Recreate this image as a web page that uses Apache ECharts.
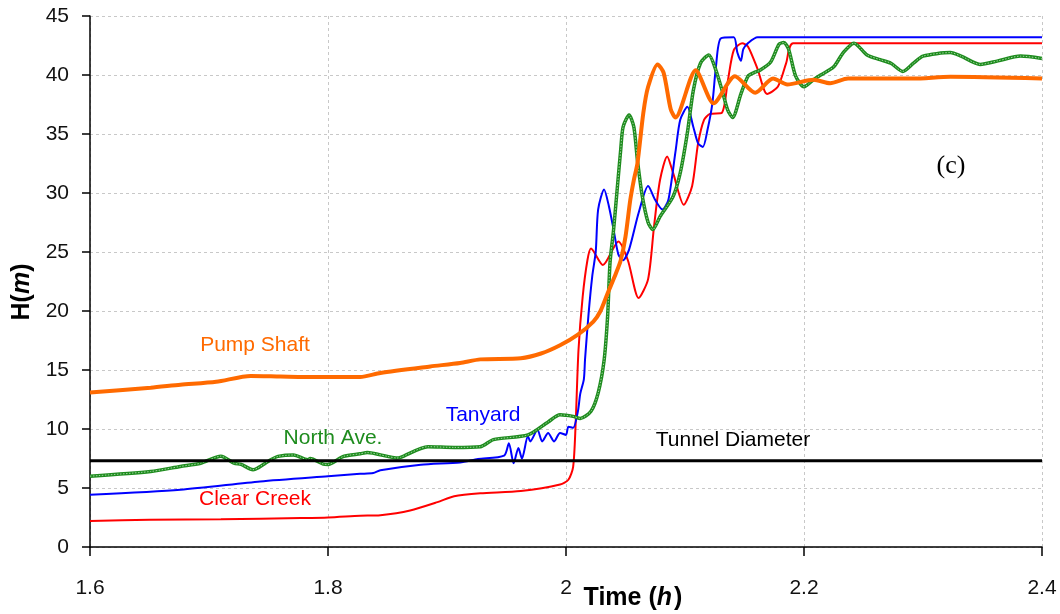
<!DOCTYPE html>
<html>
<head>
<meta charset="utf-8">
<script src="https://cdn.jsdelivr.net/npm/echarts@6/dist/echarts.min.js"></script>
<style>
html,body{margin:0;padding:0;background:#fff;}
#chart{width:1060px;height:614px;}
</style>
</head>
<body>
<div id="chart"></div>
<script>
// ---- Data (time in hours, head H in metres) ----
var xTicks = [1.6, 1.8, 2.0, 2.2, 2.4];
var yTicks = [0, 5, 10, 15, 20, 25, 30, 35, 40, 45];

var pumpShaft = [
  [1.600,13.1],[1.651,13.5],[1.676,13.75],[1.706,14.0],[1.735,14.5],[1.760,14.45],[1.790,14.4],
  [1.827,14.4],[1.844,14.75],[1.886,15.3],[1.911,15.6],[1.928,15.9],[1.962,16.0],[1.979,16.4],
  [1.995,17.1],[2.010,18.0],[2.023,19.1],[2.029,20.0],[2.035,21.5],[2.042,23.2],[2.046,24.3],
  [2.050,26.3],[2.054,29.4],[2.057,31.1],[2.060,32.5],[2.065,36.8],[2.069,39.0],[2.077,40.9],
  [2.082,40.2],[2.088,37.1],[2.092,36.4],[2.109,40.4],[2.124,37.6],[2.142,39.9],[2.159,38.5],
  [2.174,39.7],[2.186,39.2],[2.208,39.6],[2.222,39.3],[2.237,39.7],[2.292,39.7],[2.323,39.85],[2.400,39.7]
];

var clearCreek = [
  [1.600,2.2],[1.650,2.3],[1.710,2.35],[1.777,2.45],[1.800,2.5],[1.827,2.65],[1.844,2.7],
  [1.869,3.1],[1.892,3.8],[1.906,4.3],[1.928,4.55],[1.962,4.75],[1.995,5.3],[2.002,5.7],
  [2.006,6.8],[2.008,10.2],[2.0105,16.7],[2.014,21.2],[2.018,24.3],[2.021,25.3],[2.031,23.9],
  [2.044,25.9],[2.052,24.3],[2.061,21.1],[2.069,22.7],[2.074,27.2],[2.079,31.1],[2.085,33.1],
  [2.090,31.7],[2.099,29.0],[2.106,30.6],[2.111,34.2],[2.116,36.2],[2.121,36.7],[2.131,36.8],
  [2.136,39.5],[2.141,42.1],[2.148,42.7],[2.153,42.4],[2.161,40.5],[2.169,38.4],[2.178,39.0],
  [2.185,41.0],[2.191,42.7],[2.400,42.7]
];

var tanyard = [
  [1.600,4.43],[1.676,4.86],[1.743,5.56],[1.800,6.0],[1.827,6.2],[1.838,6.27],[1.844,6.5],
  [1.878,6.97],[1.911,7.17],[1.926,7.45],[1.948,7.74],[1.952,8.8],[1.956,7.1],[1.960,8.4],
  [1.963,7.5],[1.968,9.4],[1.970,8.95],[1.976,9.94],[1.980,8.95],[1.985,9.66],[1.990,8.95],
  [1.995,9.66],[2.000,9.5],[2.002,10.2],[2.006,10.1],[2.010,11.5],[2.012,13.0],[2.015,14.2],
  [2.016,15.9],[2.019,19.8],[2.022,22.9],[2.025,25.05],[2.027,28.6],[2.032,30.3],[2.036,28.9],
  [2.040,26.9],[2.044,24.8],[2.048,24.3],[2.053,25.2],[2.061,28.3],[2.069,30.6],[2.075,29.4],
  [2.081,28.6],[2.086,29.4],[2.092,33.5],[2.096,36.2],[2.102,37.3],[2.107,35.6],[2.111,34.2],
  [2.115,33.9],[2.119,35.4],[2.123,37.6],[2.126,40.7],[2.130,43.1],[2.141,43.2],[2.144,41.9],
  [2.147,41.2],[2.149,42.2],[2.153,42.7],[2.161,43.2],[2.400,43.2]
];

var northAve = [
  [1.600,6.0],[1.651,6.4],[1.676,6.83],[1.693,7.1],[1.710,7.7],[1.721,7.1],[1.727,7.0],
  [1.737,6.55],[1.741,6.7],[1.752,7.4],[1.758,7.68],[1.771,7.8],[1.783,7.4],[1.785,7.5],
  [1.796,7.03],[1.800,7.0],[1.813,7.68],[1.827,7.9],[1.833,8.0],[1.850,7.68],[1.858,7.54],
  [1.861,7.6],[1.884,8.5],[1.906,8.44],[1.928,8.5],[1.939,9.1],[1.968,9.5],[1.985,10.6],
  [1.995,11.2],[2.006,11.07],[2.012,10.9],[2.021,11.5],[2.027,13.05],[2.032,15.8],[2.035,19.6],
  [2.037,24.1],[2.040,26.9],[2.043,30.3],[2.046,33.7],[2.048,35.6],[2.053,36.6],[2.057,35.6],
  [2.060,32.8],[2.064,29.8],[2.069,27.5],[2.073,26.9],[2.079,28.0],[2.090,29.7],[2.096,31.7],
  [2.102,35.1],[2.107,38.7],[2.113,41.0],[2.120,41.7],[2.126,40.4],[2.132,38.4],[2.136,37.0],
  [2.140,36.4],[2.147,38.4],[2.153,39.9],[2.158,40.2],[2.163,40.4],[2.172,41.1],[2.179,42.6],
  [2.183,42.75],[2.187,42.2],[2.193,39.9],[2.200,39.0],[2.208,39.6],[2.214,40.0],[2.225,40.7],
  [2.233,41.9],[2.242,42.7],[2.253,41.7],[2.264,41.3],[2.273,41.0],[2.283,40.3],[2.292,41.0],
  [2.300,41.6],[2.323,41.9],[2.332,41.6],[2.348,40.9],[2.363,41.2],[2.382,41.6],[2.400,41.4]
];

var tunnelDiameter = [[1.6,7.3],[2.4,7.3]];

var labels = [
  {text:'Pump Shaft', x:255, y:345, color:'#FF6A00'},
  {text:'North Ave.', x:333, y:438, color:'#1E8C1E'},
  {text:'Tanyard', x:483, y:415, color:'#0000FF'},
  {text:'Clear Creek', x:255, y:499, color:'#FF0000'},
  {text:'Tunnel Diameter', x:733, y:440, color:'#000000'}
];

var chart = echarts.init(document.getElementById('chart'), null, {renderer:'canvas'});
var font = "'Liberation Sans', Arial, sans-serif";

function lineSeries(name, data, color, width, z, extra) {
  var s = {
    name: name, type: 'line', data: data, showSymbol: false, symbol: 'none',
    smooth: 0.25, z: z,
    lineStyle: {color: color, width: width},
    itemStyle: {color: color},
    animation: false
  };
  if (extra) { for (var k in extra) { s.lineStyle[k] = extra[k]; } }
  return s;
}

var graphics = labels.map(function (l) {
  return {
    type: 'text', x: l.x, y: l.y, z: 100,
    style: {text: l.text, fill: l.color, font: '21px ' + font, align: 'center', verticalAlign: 'middle'}
  };
});
graphics.push({
  type: 'text', x: 951, y: 166, z: 100,
  style: {text: '(c)', fill: '#000', font: "26px 'Liberation Serif', 'Times New Roman', serif", align: 'center', verticalAlign: 'middle'}
});
graphics.push({
  type: 'text', x: 633, y: 598, z: 100,
  style: {
    text: '{b|Time (}{i|h}{b|\u200a)}',
    align: 'center', verticalAlign: 'middle',
    rich: {
      b: {font: 'bold 25px ' + font, fill: '#000'},
      i: {font: 'italic bold 25px ' + font, fill: '#000'}
    }
  }
});
graphics.push({
  type: 'text', x: 22, y: 292, rotation: Math.PI / 2, z: 100,
  style: {
    text: '{b|H(}{i|m}{b|)}',
    align: 'center', verticalAlign: 'middle',
    rich: {
      b: {font: 'bold 25px ' + font, fill: '#000'},
      i: {font: 'italic bold 25px ' + font, fill: '#000'}
    }
  }
});

var option = {
  backgroundColor: '#ffffff',
  animation: false,
  grid: {left: 90, right: 18, top: 16, bottom: 67, containLabel: false},
  xAxis: {
    type: 'value', min: xTicks[0], max: xTicks[xTicks.length - 1], interval: 0.2,
    axisLine: {show: true, onZero: false, lineStyle: {color: '#000', width: 1.5}},
    axisTick: {show: true, inside: false, length: 9, lineStyle: {color: '#000', width: 1.5}},
    axisLabel: {margin: 31, fontSize: 21, fontFamily: font, color: '#111',
      formatter: function (v) { return String(Math.round(v * 10) / 10); }},
    splitLine: {show: true, lineStyle: {color: '#c8c8c8', type: [3, 3], width: 1}}
  },
  yAxis: {
    type: 'value', min: yTicks[0], max: yTicks[yTicks.length - 1], interval: 5,
    axisLine: {show: true, onZero: false, lineStyle: {color: '#000', width: 1.5}},
    axisTick: {show: true, inside: false, length: 8, lineStyle: {color: '#000', width: 1.5}},
    axisLabel: {margin: 21, fontSize: 21, fontFamily: font, color: '#111'},
    splitLine: {show: true, lineStyle: {color: '#c8c8c8', type: [3, 3], width: 1}}
  },
  series: [
    lineSeries('Clear Creek', clearCreek, '#FF0000', 2, 3),
    lineSeries('Tanyard', tanyard, '#0000FF', 2, 4),
    lineSeries('North Ave.', northAve, '#1E8C1E', 3.5, 5),
    lineSeries('North Ave. (inner)', northAve, '#9ED49E', 1, 5, {type: [1.5, 1.5]}),
    lineSeries('Pump Shaft', pumpShaft, '#FF6A00', 4, 6),
    {
      name: 'Tunnel Diameter', type: 'line', data: tunnelDiameter, showSymbol: false, symbol: 'none',
      z: 7, lineStyle: {color: '#000', width: 3}, animation: false
    }
  ],
  graphic: graphics
};
chart.setOption(option);
</script>
</body>
</html>
